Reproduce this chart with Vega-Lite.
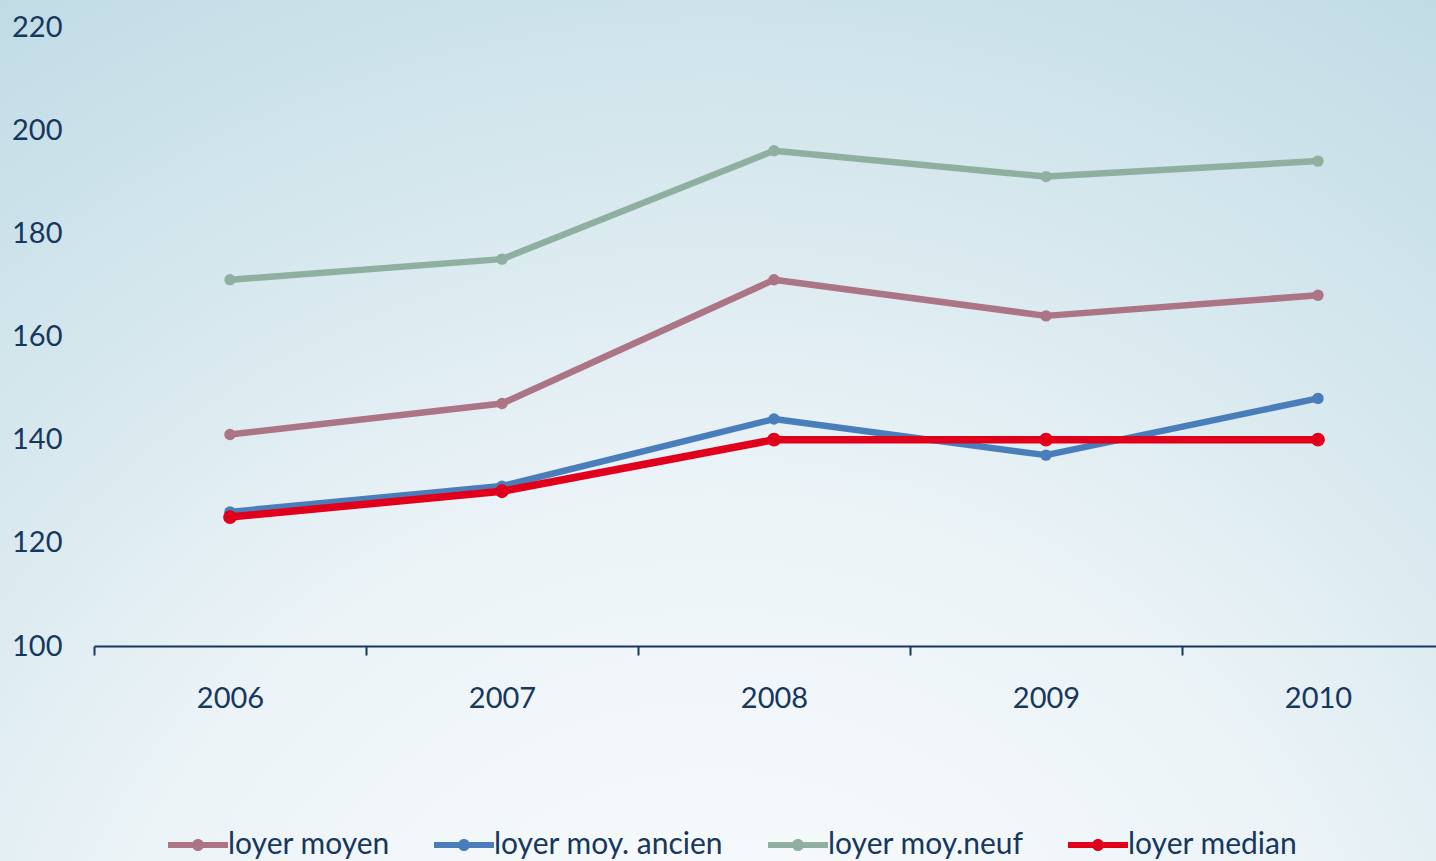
{
  "$schema": "https://vega.github.io/schema/vega-lite/v6.json",
  "width": 1436,
  "height": 861,
  "autosize": {"type": "none"},
  "padding": 0,
  "background": "#e4eff4",
  "config": {
    "font": "Lato",
    "view": {
      "stroke": null,
      "fill": {
        "gradient": "radial",
        "x1": 0.5, "y1": 1.0, "r1": 0,
        "x2": 0.5, "y2": 1.0, "r2": 1.15,
        "stops": [
          {"offset": 0, "color": "#fdfeff"},
          {"offset": 0.4, "color": "#ebf3f7"},
          {"offset": 0.6, "color": "#d6e8ee"},
          {"offset": 0.85, "color": "#bedae4"},
          {"offset": 1, "color": "#a0c8d6"}
        ]
      }
    }
  },
  "data": {
    "values": [
      {"annee": "2006", "serie": "loyer moyen", "valeur": 141},
      {"annee": "2007", "serie": "loyer moyen", "valeur": 147},
      {"annee": "2008", "serie": "loyer moyen", "valeur": 171},
      {"annee": "2009", "serie": "loyer moyen", "valeur": 164},
      {"annee": "2010", "serie": "loyer moyen", "valeur": 168},
      {"annee": "2006", "serie": "loyer moy. ancien", "valeur": 126},
      {"annee": "2007", "serie": "loyer moy. ancien", "valeur": 131},
      {"annee": "2008", "serie": "loyer moy. ancien", "valeur": 144},
      {"annee": "2009", "serie": "loyer moy. ancien", "valeur": 137},
      {"annee": "2010", "serie": "loyer moy. ancien", "valeur": 148},
      {"annee": "2006", "serie": "loyer moy.neuf", "valeur": 171},
      {"annee": "2007", "serie": "loyer moy.neuf", "valeur": 175},
      {"annee": "2008", "serie": "loyer moy.neuf", "valeur": 196},
      {"annee": "2009", "serie": "loyer moy.neuf", "valeur": 191},
      {"annee": "2010", "serie": "loyer moy.neuf", "valeur": 194},
      {"annee": "2006", "serie": "loyer median", "valeur": 125},
      {"annee": "2007", "serie": "loyer median", "valeur": 130},
      {"annee": "2008", "serie": "loyer median", "valeur": 140},
      {"annee": "2009", "serie": "loyer median", "valeur": 140},
      {"annee": "2010", "serie": "loyer median", "valeur": 140}
    ]
  },
  "encoding": {
    "x": {
      "field": "annee",
      "type": "ordinal",
      "scale": {"type": "band", "range": [94, 1454], "paddingInner": 0, "paddingOuter": 0},
      "axis": {
        "title": null,
        "orient": "bottom",
        "offset": -215,
        "labelAngle": 0,
        "domainColor": "#17375e",
        "domainWidth": 2,
        "tickBand": "extent",
        "tickColor": "#17375e",
        "tickWidth": 2,
        "tickSize": 9,
        "labelPadding": 29,
        "labelFontSize": 29,
        "labelColor": "#17375e",
        "grid": false
      }
    },
    "y": {
      "field": "valeur",
      "type": "quantitative",
      "scale": {"domain": [100, 220], "range": [646, 27], "nice": false, "zero": false},
      "axis": {
        "title": null,
        "orient": "left",
        "offset": -62,
        "values": [100, 120, 140, 160, 180, 200, 220],
        "domain": false,
        "ticks": false,
        "tickSize": 0,
        "grid": false,
        "labelAlign": "right",
        "labelBaseline": "middle",
        "labelPadding": 0,
        "labelFontSize": 29,
        "labelColor": "#17375e"
      }
    },
    "color": {
      "field": "serie",
      "type": "nominal",
      "scale": {
        "domain": ["loyer moyen", "loyer moy. ancien", "loyer moy.neuf", "loyer median"],
        "range": ["#ab7585", "#4a7ebb", "#8fb0a0", "#e0001b"]
      },
      "legend": {
        "title": null,
        "orient": "none",
        "direction": "horizontal",
        "columns": 4,
        "legendX": 168,
        "legendY": 815,
        "symbolType": "M-1,-0.1L1,-0.1L1,0.1L-1,0.1Z M-0.2,0A0.2,0.2,0,1,1,0.2,0A0.2,0.2,0,1,1,-0.2,0Z",
        "symbolSize": 3600,
        "symbolStrokeWidth": 0,
        "symbolFillColor": "#888888",
        "labelFontSize": 30,
        "labelColor": "#17375e",
        "labelOffset": 0,
        "columnPadding": 44,
        "labelLimit": 400,
        "encode": {
          "symbols": {
            "update": {
              "fill": {"scale": "color", "field": "value"},
              "stroke": {"value": "transparent"},
              "strokeWidth": {"value": 0},
              "opacity": {"value": 1}
            }
          }
        }
      }
    }
  },
  "layer": [
    {
      "transform": [{"filter": "datum.serie !== 'loyer median'"}],
      "mark": {"type": "line", "strokeWidth": 6.5, "strokeCap": "round", "strokeJoin": "round"}
    },
    {
      "transform": [{"filter": "datum.serie !== 'loyer median'"}],
      "mark": {"type": "point", "filled": true, "opacity": 1, "shape": "circle", "size": 130}
    },
    {
      "transform": [{"filter": "datum.serie === 'loyer median'"}],
      "mark": {"type": "line", "strokeWidth": 7.5, "strokeCap": "round", "strokeJoin": "round"}
    },
    {
      "transform": [{"filter": "datum.serie === 'loyer median'"}],
      "mark": {"type": "point", "filled": true, "opacity": 1, "shape": "circle", "size": 190}
    }
  ]
}
